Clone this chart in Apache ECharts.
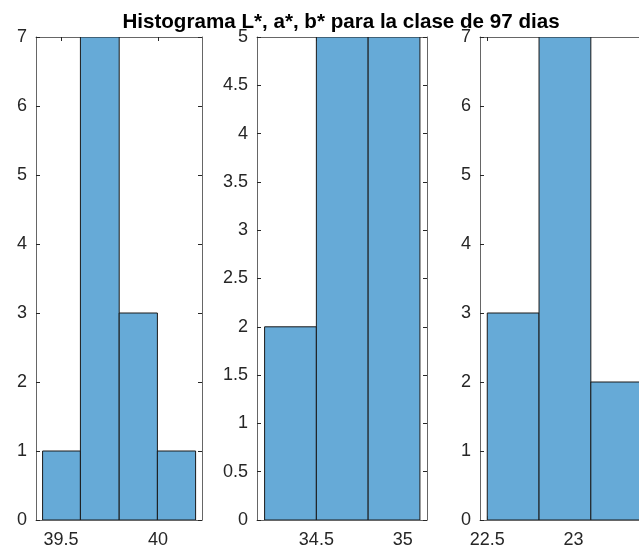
<!DOCTYPE html>
<html>
<head>
<meta charset="utf-8">
<script src="https://cdn.jsdelivr.net/npm/echarts@6/dist/echarts.min.js"></script>
<style>
  html, body { margin: 0; padding: 0; background: #fff; }
  #box { width: 639px; height: 553px; }
</style>
</head>
<body>
<div id="box"></div>
<script>
// bin edges and counts for each histogram (L*, a*, b*)
const binsL = [39.405, 39.6, 39.8, 39.997, 40.194];
const countsL = [1, 7, 3, 1];
const binsA = [34.2, 34.5, 34.8, 35.1];
const countsA = [2, 5, 5];
const binsB = [22.5, 22.8, 23.1, 23.4];
const countsB = [3, 7, 2];

const xTicksL = [39.5, 40];
const xTicksA = [34.5, 35];
const xTicksB = [22.5, 23];

const textColor = '#262626';
const lineColor = '#666666';
const barColor = '#66aad7';
const fontFam = 'Liberation Sans, Arial, sans-serif';

const chart = echarts.init(document.getElementById('box'));

function toData(edges, counts) {
  return counts.map((c, i) => [edges[i], edges[i + 1], c]);
}

const panels = [
  { bins: binsL, counts: countsL, xt: xTicksL, xmin: 39.371, xmax: 40.227, ymax: 7, yint: 1, left: 36, width: 166, rightAxis: true },
  { bins: binsA, counts: countsA, xt: xTicksA, xmin: 34.156, xmax: 35.141, ymax: 5, yint: 0.5, left: 257, width: 170, rightAxis: true },
  // the third panel runs off the right edge of the figure
  { bins: binsB, counts: countsB, xt: xTicksB, xmin: 22.458, xmax: 23.379, ymax: 7, yint: 1, left: 480, width: 159, rightAxis: false }
];

const grid = [], xAxis = [], yAxis = [], series = [];
panels.forEach((p, i) => {
  grid.push({ left: p.left, width: p.width, top: 37, height: 483, show: false });
  ['bottom', 'top'].forEach(pos => {
    xAxis.push({
      type: 'value', gridIndex: i, position: pos, min: p.xmin, max: p.xmax,
      axisLine: { show: true, onZero: false, lineStyle: { color: lineColor, width: 1 } },
      axisTick: { show: true, inside: true, length: 4, customValues: p.xt, lineStyle: { color: '#262626' } },
      axisLabel: { show: pos === 'bottom', customValues: p.xt, color: textColor, fontSize: 18, fontFamily: fontFam, margin: 11 },
      splitLine: { show: false }
    });
  });
  ['left', 'right'].forEach(pos => {
    yAxis.push({
      type: 'value', gridIndex: i, position: pos, min: 0, max: p.ymax, interval: p.yint,
      show: pos === 'left' || p.rightAxis,
      axisLine: { show: true, lineStyle: { color: lineColor, width: 1 } },
      axisTick: { show: true, inside: true, length: 4, lineStyle: { color: '#262626' } },
      axisLabel: { show: pos === 'left', color: textColor, fontSize: 18, fontFamily: fontFam, margin: 9 },
      splitLine: { show: false }
    });
  });
  series.push({
    type: 'custom',
    xAxisIndex: i * 2,
    yAxisIndex: i * 2,
    data: toData(p.bins, p.counts),
    clip: true,
    renderItem: function (params, api) {
      const a = api.coord([api.value(0), api.value(2)]);
      const b = api.coord([api.value(1), 0]);
      return {
        type: 'rect',
        shape: { x: a[0], y: a[1], width: b[0] - a[0], height: b[1] - a[1] },
        style: { fill: barColor, stroke: '#1a1a1a', lineWidth: 1 }
      };
    }
  });
});

chart.setOption({
  animation: false,
  title: {
    text: 'Histograma L*, a*, b* para la clase de 97 dias',
    left: 336,
    textAlign: 'center',
    top: 7,
    textStyle: { fontSize: 20.6, fontWeight: 'bold', color: '#000', fontFamily: fontFam }
  },
  grid: grid,
  xAxis: xAxis,
  yAxis: yAxis,
  series: series
});
</script>
</body>
</html>
